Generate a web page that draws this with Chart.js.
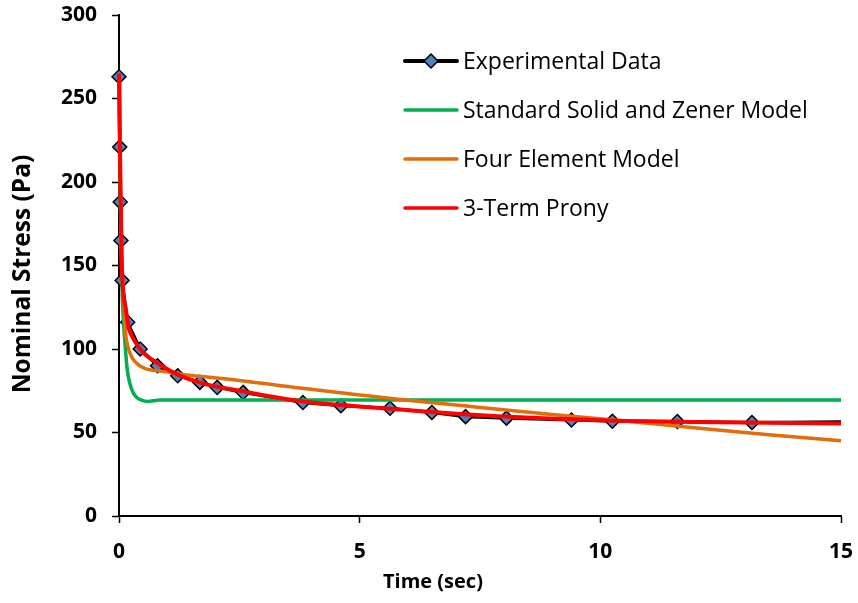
<!doctype html>
<html lang="en"><head>
<meta charset="utf-8"/>
<title>Nominal stress relaxation</title>
<script src="https://cdn.jsdelivr.net/npm/chart.js@4.4.6/dist/chart.umd.min.js"></script>
<style>
  html,body{margin:0;background:#fff}
  #wrap{position:relative;width:858px;height:603px}
</style></head>
<body>
<div id="wrap"><canvas id="c"></canvas></div>
<script>
// Experimental data: time (sec) / nominal stress (Pa)
const expTime   = [0, 0.015, 0.025, 0.04, 0.065, 0.18, 0.44, 0.8, 1.22, 1.68, 2.04, 2.58, 3.82, 4.61, 5.63, 6.5, 7.2, 8.05, 9.4, 10.25, 11.6, 13.15, 15];
const expStress = [263, 221, 188, 165, 141, 116, 100, 90, 84, 80, 77, 74, 68, 66, 64.5, 62, 59.5, 58.6, 57.5, 56.7, 56.6, 56, 56.4];

// Standard Solid and Zener Model
const slsTime   = [0, 0.02, 0.04, 0.07, 0.1, 0.12, 0.17, 0.22, 0.27, 0.35, 0.48, 0.6, 0.72, 0.85, 1.2, 15];
const slsStress = [262, 210, 165, 130, 113, 105, 88, 80, 75.4, 71.5, 69.2, 68.6, 69, 69.4, 69.5, 69.5];

// Four Element Model
const fourTime   = [0, 0.02, 0.04, 0.06, 0.1, 0.13, 0.18, 0.23, 0.3, 0.41, 0.55, 0.68, 1.0, 1.24, 1.72, 2.5, 3.76, 5.0, 5.84, 7.5, 9.0, 10.4, 12.0, 13.5, 15];
const fourStress = [262, 215, 175, 150, 127, 111, 102, 97.4, 93.5, 90.4, 88.3, 87.4, 86.3, 85, 83.6, 81.2, 76.6, 72.5, 69.8, 65, 60.8, 57.2, 52.7, 48.7, 45];

// 3-Term Prony
const pronyTime   = [0, 0.02, 0.04, 0.06, 0.09, 0.13, 0.2, 0.3, 0.41, 0.55, 0.75, 1.0, 1.24, 1.72, 2.5, 3.8, 5.0, 6.5, 8.0, 10.0, 12.0, 15];
const pronyStress = [265, 222, 180, 150, 133, 126, 113, 106, 101, 96.5, 92.4, 88, 84.4, 79.6, 75, 68.7, 65.6, 62.3, 59.6, 57.4, 56.3, 55.4];

const seriesNames = ['Experimental Data', 'Standard Solid and Zener Model', 'Four Element Model', '3-Term Prony'];
const xTicks = [0, 5, 10, 15];
const yTicks = [0, 50, 100, 150, 200, 250, 300];
const xTitle = 'Time (sec)';
const yTitle = 'Nominal Stress (Pa)';

const COLORS = { exp: '#000000', marker: '#4F81BD', sls: '#00B050', four: '#E46C0A', prony: '#FF0000' };
const FONT = '"Open Sans", "DejaVu Sans", sans-serif';
const pts = (xs, ys) => xs.map((x, i) => ({ x, y: ys[i] }));

const datasets = [
  { label: seriesNames[0], data: pts(expTime, expStress), order: 4, clip: false,
    borderColor: COLORS.exp, borderWidth: 3, tension: 0,
    pointStyle: 'rectRot', pointRadius: c => c.dataIndex === expTime.length - 1 ? 0 : 7,
    pointBackgroundColor: COLORS.marker, pointBorderColor: '#000', pointBorderWidth: 1.5 },
  { label: seriesNames[1], data: pts(slsTime, slsStress), order: 3, clip: false,
    borderColor: COLORS.sls, borderWidth: 3.5, pointRadius: 0, cubicInterpolationMode: 'monotone' },
  { label: seriesNames[2], data: pts(fourTime, fourStress), order: 2, clip: false,
    borderColor: COLORS.four, borderWidth: 3.5, pointRadius: 0, cubicInterpolationMode: 'monotone' },
  { label: seriesNames[3], data: pts(pronyTime, pronyStress), order: 1, clip: false,
    borderColor: COLORS.prony, borderWidth: 4, pointRadius: 0, cubicInterpolationMode: 'monotone' }
];

// legend + axis titles, placed like the original figure
const overlay = {
  id: 'overlay',
  afterDraw(chart) {
    const ctx = chart.ctx;
    ctx.save();
    ctx.fillStyle = '#000';
    ctx.textBaseline = 'middle';
    ctx.font = 'bold 20px ' + FONT;
    ctx.textAlign = 'left';
    ctx.fillText(xTitle, 383, 582);
    ctx.save();
    ctx.translate(23, 274);
    ctx.rotate(-Math.PI / 2);
    ctx.textAlign = 'center';
    ctx.font = 'bold 24.5px ' + FONT;
    ctx.fillText(yTitle, 0, 0);
    ctx.restore();

    const rows = [61, 110, 159, 208];
    const lineCol = [COLORS.exp, COLORS.sls, COLORS.four, COLORS.prony];
    const lineW = [4, 3.5, 3.5, 3.5];
    ctx.font = '23px ' + FONT;
    ctx.lineCap = 'round';
    rows.forEach((y, i) => {
      ctx.strokeStyle = lineCol[i];
      ctx.lineWidth = lineW[i];
      ctx.beginPath(); ctx.moveTo(405, y); ctx.lineTo(457, y); ctx.stroke();
      if (i === 0) {
        ctx.beginPath();
        ctx.moveTo(424, y); ctx.lineTo(431, y - 7); ctx.lineTo(438, y); ctx.lineTo(431, y + 7); ctx.closePath();
        ctx.fillStyle = COLORS.marker; ctx.fill();
        ctx.lineWidth = 1.5; ctx.strokeStyle = '#000'; ctx.stroke();
        ctx.fillStyle = '#000';
      }
      ctx.fillText(seriesNames[i], 463, y + 1);
    });
    ctx.restore();
  }
};

const tickFont = { family: FONT, size: 21, weight: 'bold' };

new Chart(document.getElementById('c'), {
  type: 'line',
  data: { datasets },
  options: {
    responsive: true, maintainAspectRatio: false, animation: false,
    layout: { padding: { top: 15, right: 17, left: 0, bottom: 0 } },
    plugins: { legend: { display: false }, tooltip: { enabled: false } },
    scales: {
      x: {
        type: 'linear', min: 0, max: 15,
        afterBuildTicks: s => { s.ticks = xTicks.map(v => ({ value: v })); },
        ticks: { color: '#000', font: tickFont, padding: 16, maxRotation: 0 },
        grid: { drawOnChartArea: false, tickLength: 7, tickColor: '#000', tickWidth: 1.5 },
        border: { color: '#000', width: 2 },
        afterFit: s => { s.height = 87; s.paddingLeft = 0; s.paddingRight = 0; }
      },
      y: {
        type: 'linear', min: 0, max: 300,
        afterBuildTicks: s => { s.ticks = yTicks.map(v => ({ value: v })); },
        ticks: { color: '#000', font: tickFont, padding: 15 },
        grid: { drawOnChartArea: false, tickLength: 7, tickColor: '#000', tickWidth: 1.5 },
        border: { color: '#000', width: 2 },
        afterFit: s => { s.width = 119; s.paddingTop = 0; s.paddingBottom = 0; }
      }
    }
  },
  plugins: [overlay]
});
</script>
</body></html>
